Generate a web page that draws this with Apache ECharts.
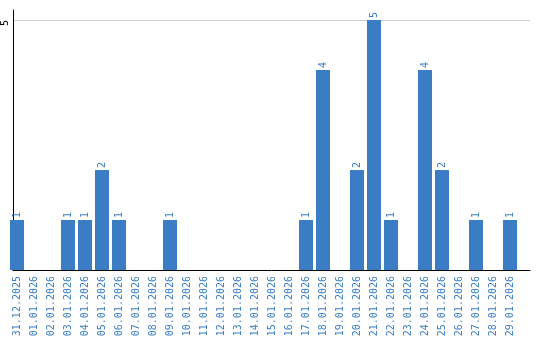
<!DOCTYPE html>
<html>
<head>
<meta charset="utf-8">
<script src="https://cdn.jsdelivr.net/npm/echarts@6/dist/echarts.min.js"></script>
<style>html,body{margin:0;padding:0;background:#fff}#c{width:540px;height:340px}</style>
</head>
<body>
<div id="c"></div>
<script>
const categories = ['31.12.2025','01.01.2026','02.01.2026','03.01.2026','04.01.2026','05.01.2026','06.01.2026','07.01.2026','08.01.2026','09.01.2026','10.01.2026','11.01.2026','12.01.2026','13.01.2026','14.01.2026','15.01.2026','16.01.2026','17.01.2026','18.01.2026','19.01.2026','20.01.2026','21.01.2026','22.01.2026','23.01.2026','24.01.2026','25.01.2026','26.01.2026','27.01.2026','28.01.2026','29.01.2026'];
const values = [1,0,0,1,1,2,1,0,0,1,0,0,0,0,0,0,0,1,4,0,2,5,1,0,4,2,0,1,0,1];
const yTickLabels = [5];

const blue = '#3b7dc4';
const font = 'DejaVu Sans Mono';
const chart = echarts.init(document.getElementById('c'));
chart.setOption({
  animation: false,
  grid: [
    {left: 10, right: 10, top: 10, bottom: 70},
    {left: 8.5, right: 21.5, top: 10, bottom: 70}
  ],
  xAxis: [
    {gridIndex: 0, type: 'value', min: 0, max: 1, axisLine: {show: true, onZero: false, lineStyle: {color: '#000', width: 1}}, axisTick: {show: false}, axisLabel: {show: false}, splitLine: {show: false}},
    {gridIndex: 1, type: 'category', data: categories, axisLine: {show: false}, axisTick: {show: false},
     axisLabel: {rotate: 90, interval: 0, margin: 6, color: blue, fontFamily: font, fontSize: 10}}
  ],
  yAxis: [
    {gridIndex: 0, type: 'value', min: 0, max: 5.2, interval: 5,
     axisLine: {show: true, lineStyle: {color: '#000', width: 1}}, axisTick: {show: false},
     axisLabel: {rotate: 90, margin: 3, align: 'right', verticalAlign: 'bottom', color: '#000', fontFamily: font, fontSize: 10,
       formatter: v => yTickLabels.includes(v) ? String(v) : ''},
     splitLine: {show: true, showMinLine: false, showMaxLine: false, lineStyle: {color: '#cccccc', width: 1}}},
    {gridIndex: 1, type: 'value', min: 0, max: 5.2, show: false}
  ],
  series: [{
    type: 'bar', xAxisIndex: 1, yAxisIndex: 1, data: values, barWidth: 14,
    itemStyle: {color: blue},
    label: {show: true, position: 'top', rotate: 90, align: 'left', verticalAlign: 'middle', distance: 2,
      color: blue, fontFamily: font, fontSize: 10, formatter: p => p.value ? String(p.value) : ''}
  }]
});
</script>
</body>
</html>
